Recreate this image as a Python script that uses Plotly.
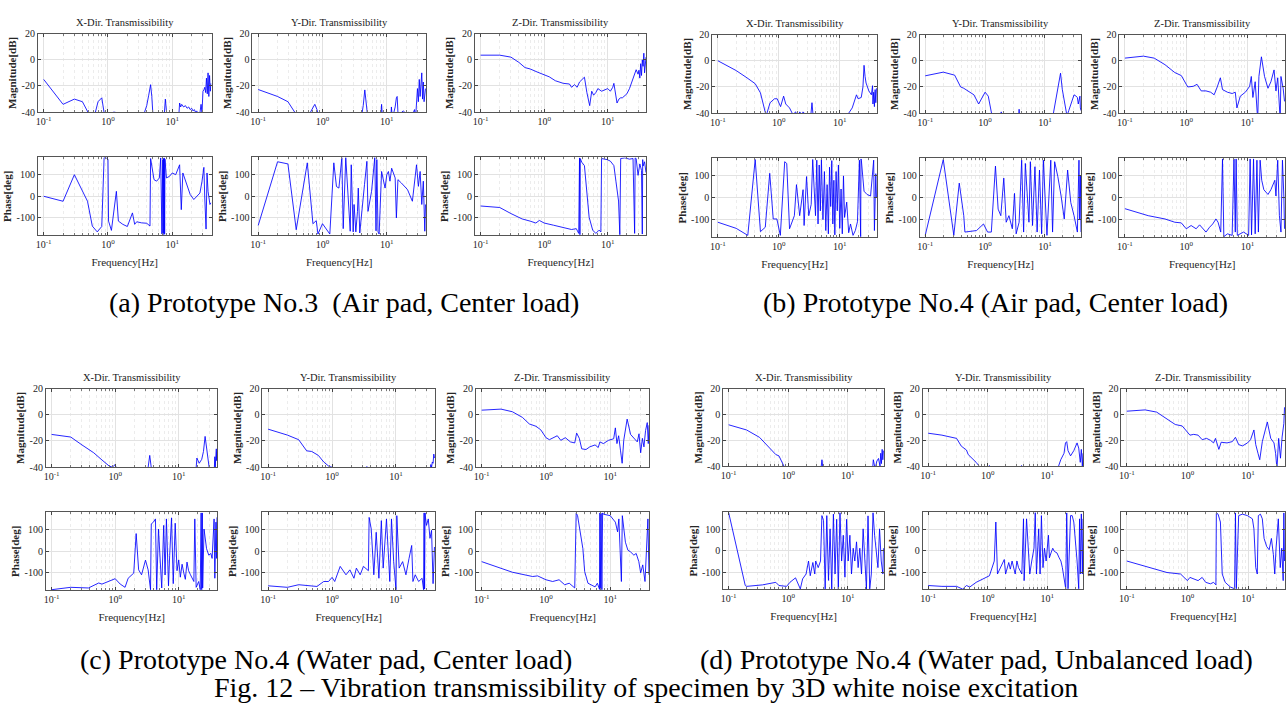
import plotly.graph_objects as go

W, H = 1287, 722
FONT = "Liberation Serif, Times New Roman, serif"
LINE = "rgba(0,0,255,0.85)"

# ---------------- data (frequency [Hz], magnitude [dB] / phase [deg]) ----------------
# (a) Prototype No.3 (Air pad, Center load)
a_xm_f = [0.1,0.2,0.3,0.4,0.5,0.6,0.7,0.8,0.9,1.0,1.2,1.3,1.5,3.4,3.7,4.0,4.3,4.6,4.8,5.0,5.5,7.4,7.8,8.1,8.5,12.5,13,13.5,14,15,16,17,18,19,20,21,22,23,24,25,26,27,28,29,30,31,32,33,34,35,36,37,38,39,40]
a_xm_v = [-15,-34,-30,-32,-41,-45,-32,-29,-45,-46,-40,-40,-46,-46,-40,-35,-27,-19,-28,-42,-50,-46,-30,-41,-50,-46,-33,-36,-34,-36,-35,-37,-36,-38,-37,-39,-38,-40,-39,-41,-45,-40,-34,-40,-24,-23,-21,-25,-14,-26,-10,-28,-12,-24,-18]
a_xp_f = [0.1,0.2,0.3,0.48,0.57,0.68,0.8,0.87,0.95,1.0,1.02,1.13,1.35,1.45,1.7,2.0,2.4,2.6,2.8,3.3,4.0,4.5,4.6,5.2,5.7,6.3,6.6,6.9,7.1,7.2,7.3,7.4,7.5,7.6,7.7,8.1,9.0,10,11.3,13,13.8,14.6,16.8,19,21.6,24,26.9,29,31,32,33.5,34.7,36,38.5,40]
a_xp_v = [0,-23,100,-23,-138,-165,-140,180,178,170,-115,-158,23,-115,-130,-140,-77,-130,-118,-123,-125,-138,175,77,70,85,178,-175,170,-178,175,-170,178,-176,172,85,92,108,100,146,-62,108,54,8,-15,0,15,70,134,-8,-152,108,23,-38,-30]
a_ym_f = [0.1,0.2,0.29,0.37,0.5,0.65,0.72,0.76,0.82,0.9,2.9,3.0,3.1,3.6,4.0,4.3,4.55,4.8,5.1,5.6,8.0,8.3,8.6,11.5,11.8,12.2,13.5,14.1,14.5,14.9,16,17,18,19,20,22,24,26,27,28,29,30,31,32,33,34,35,36,37,38,39,40]
a_ym_v = [-22.7,-28,-32,-40,-46,-40,-36,-34,-38,-46,-46,-40,-46,-50,-45,-35,-23,-33,-46,-50,-46,-34,-46,-46,-36,-45,-36,-29,-28,-40,-42,-40,-39,-40,-41,-40,-42,-40,-38,-45,-30,-22,-32,-15,-28,-20,-10,-30,-17,-32,-25,-22]
a_yp_f = [0.1,0.2,0.29,0.39,0.58,0.71,0.8,0.85,1.0,1.15,1.3,1.5,1.65,1.8,2.0,2.1,2.2,2.3,2.7,2.8,3.0,3.1,3.3,3.5,3.6,3.8,4.5,4.9,5.1,5.8,6.5,6.8,7.0,7.3,7.6,8.3,9.4,10,10.6,11.2,11.9,13.5,14.1,14.9,16.8,18.8,21,25,29,31,33,35,37,39,40]
a_yp_v = [-135,160,150,-155,155,-127,-113,-175,-127,-152,-175,155,45,38,180,-150,15,180,-162,146,-165,-38,-165,-70,38,-170,54,162,-70,23,180,-160,170,-165,-175,115,38,100,115,70,130,85,-100,77,62,46,31,-23,146,46,115,-38,70,-162,-38]
a_zm_f = [0.1,0.2,0.3,0.4,0.5,0.6,0.8,1.0,1.2,1.5,2.0,2.5,2.7,3.0,3.3,3.6,4.0,4.3,4.7,5.0,5.2,5.6,6.0,6.5,7.0,8.0,9.0,10,11,12,12.5,13.5,14,15,16,17,18,20,22,24,26,28,30,31,32,33,34,35,36,37,38,39,40]
a_zm_v = [3.5,3.5,2,-2,-6,-7,-9.6,-11.4,-13,-16,-18,-18.5,-21,-19,-21,-17,-14.6,-13.3,-25,-30,-35,-24,-27,-25,-22,-24,-23,-22,-24,-21,-18,-28,-33,-30,-29,-29,-28,-26,-22,-17,-12,-7.6,-11,-8,-14,-3,-12,0,-5,5,-10,-2,2]
a_zp_f = [0.1,0.2,0.3,0.45,0.6,0.74,0.84,1.0,1.4,1.8,2.2,2.7,3.2,3.5,3.6,3.65,3.7,3.8,3.9,4.3,4.7,5.1,5.8,6.5,7.3,7.8,8.0,9.8,11,12.5,13.5,14.8,15.5,16,18.6,22,25,26.5,27,28,30,32,34,35,35.5,36,38,40]
a_zp_v = [-45,-52,-80,-105,-115,-124,-112,-124,-134,-142,-148,-154,-150,-172,178,-178,175,160,158,142,8,-97,-157,-172,-157,-165,175,170,163,142,67,-22,-178,175,178,172,175,-172,178,175,97,150,120,-175,170,140,160,110]

# (b) Prototype No.4 (Air pad, Center load)
b_xm_f = [0.1,0.2,0.3,0.41,0.5,0.6,0.62,0.72,0.85,0.94,1.07,1.2,1.3,1.5,1.7,1.9,2.0,2.2,2.4,2.5,3.3,3.5,3.7,13.5,14,16,18.8,20,22.5,24,25,26,27,30,33,34.5,35,36,37,38,39,40]
b_xm_v = [0,-7.5,-13,-17.5,-24.5,-38,-42,-32,-29,-29,-35,-27,-33,-36,-41,-39,-45,-39,-41,-39,-45,-32,-45,-45,-40,-36,-26,-29,-28,-20,-3.5,-12,-17,-23,-26,-19,-33,-24,-35,-22,-32,-21]
b_xp_f = [0.1,0.2,0.31,0.41,0.5,0.6,0.71,0.81,0.93,1.06,1.25,1.35,1.5,1.8,1.95,2.2,2.5,2.6,2.85,3.1,3.4,3.6,4.0,4.2,4.4,4.6,4.8,5.0,5.3,5.6,5.9,6.2,6.5,6.8,7.1,7.4,7.7,8.0,8.3,8.7,9.1,9.5,10,10.5,11,11.5,12,13,14,15,16.5,18,19.5,21,22,22.3,22.6,25,28,32,34.5,36,37,38,39,40]
b_xp_v = [-112,-140,-172,175,-155,-135,112,-97,-97,-172,165,157,-142,-82,60,-82,37,-127,97,-82,-30,175,-82,172,-120,150,-60,175,-100,120,-150,60,-165,140,-40,170,-120,80,-170,120,-60,150,-140,40,-165,100,-90,-20,-160,-120,-172,-150,-110,172,-178,178,172,30,15,8,97,172,-150,40,110,0]
b_ym_f = [0.1,0.2,0.31,0.39,0.44,0.55,0.65,0.78,1.0,1.13,1.28,1.8,1.86,1.9,3.6,3.7,3.8,13.6,15,16.5,18.2,19.5,21,23.3,25,27,30.6,33,34.8,36,37,38.4,39,40]
b_ym_v = [-11.5,-8.7,-11,-20,-21,-24,-26,-33,-24,-27,-40,-46,-39,-46,-46,-37,-46,-42,-30,-20,-9.5,-22,-31,-42,-38,-33,-26,-27,-28,-33,-30,-27,-36,-38]
b_yp_f = [0.1,0.2,0.3,0.37,0.44,0.46,0.72,0.94,1.1,1.27,1.49,1.65,1.83,2.05,2.25,2.5,2.85,3.1,3.3,3.7,4.08,4.4,4.7,5.4,5.7,6.2,6.8,7.4,8.1,8.8,9.4,10.8,12.5,13.4,14.5,16.4,18.6,21,23.9,27,30.6,34.8,37,38,39,40]
b_yp_v = [-172,175,-172,67,-82,-157,-150,-120,-157,-157,145,-52,-82,90,-112,-82,-142,20,-165,-112,172,-157,157,-112,165,-127,142,-157,127,-165,172,-172,172,-157,165,97,8,-97,127,-22,-82,-157,172,-100,100,-157]
b_zm_f = [0.1,0.2,0.3,0.45,0.65,0.83,1.0,1.06,1.3,1.5,1.75,2.1,2.5,2.85,3.2,3.6,3.9,4.7,5.6,6.3,6.7,7.6,9.2,10.8,11.5,12.2,13.3,14.6,15.3,16.8,18.9,21.5,24,27,29,31,34,35,38,40]
b_zm_v = [2,3.5,2,-3,-9,-11.3,-18,-20,-19.5,-18,-23,-23,-24,-26,-20,-13,-22,-24,-25,-24,-36,-27,-24,-19.5,-12,-28,-16,-45,-12,3,-12,-21,-16,-7,-23,-13,-45,-12,-21,-31]
b_zp_f = [0.1,0.24,0.45,0.65,0.83,1.0,1.2,1.45,1.65,1.85,2.1,2.4,2.7,3.05,3.3,3.65,3.9,4.1,4.3,4.7,5.6,6.0,6.3,6.5,6.8,8.6,10.4,11,11.6,12.5,13.3,14.2,15,16,17,18.4,21.5,24,27.8,29,31,33,35,37,39,40]
b_zp_v = [-50,-82,-97,-112,-115,-142,-127,-142,-124,-142,-157,-135,-120,-97,-112,-157,178,-178,-172,-165,-172,178,-157,178,-172,-157,-172,178,-170,178,-165,172,-157,172,80,37,15,37,80,8,172,-82,-157,172,8,-142]

# (c) Prototype No.4 (Water pad, Center load)
c_xm_f = [0.1,0.2,0.3,0.46,0.62,0.8,0.9,1.0,1.06,1.2,3.2,3.5,3.8,18.5,19.3,21,23,24.5,26,28.5,31,36,37,37.5,38,38.5,39,39.5,40]
c_xm_v = [-15,-17,-23,-29,-34.5,-39,-40,-38,-42,-50,-45,-31,-45,-45,-33,-37,-34,-28,-16.5,-31,-45,-45,-32,-40,-27,-38,-26,-35,-28]
c_xp_f = [0.1,0.2,0.38,0.55,0.62,0.8,1.0,1.2,1.43,1.6,1.96,2.14,2.34,2.6,3.0,3.3,3.6,3.7,4.0,4.3,4.4,4.5,4.8,5.1,5.4,5.8,6.1,6.4,6.9,7.2,7.7,8.2,8.8,9.4,10,10.6,11.3,12,12.7,13.5,14.3,15.3,17.3,17.9,18.8,20.6,21.8,22.5,23,23.5,23.8,25,27.4,29.7,32,33.5,36,37,38.5,39.5,40]
c_xp_v = [-178,-167,-170,-147,-152,-140,-127,-152,-167,-125,-101,82,-86,-109,-41,-86,-178,127,135,150,-48,-178,103,-60,-170,120,-110,150,-160,-20,155,-150,130,-90,-40,-120,-60,-100,-130,-50,-90,-109,-140,150,-167,-140,-178,178,-178,178,-170,103,12,-18,-10,-33,150,-125,135,-33,157]
c_ym_f = [0.1,0.2,0.3,0.4,0.48,0.61,0.74,0.9,1.0,1.05,3.4,3.5,3.6,34,35,36,37,38,39,40]
c_ym_v = [-11,-15.5,-19,-27.5,-28,-31,-36,-39.5,-40,-45,-45,-39.5,-45,-45,-38,-40,-36,-37,-30,-33]
c_yp_f = [0.1,0.2,0.3,0.4,0.58,0.74,0.88,1.0,1.1,1.34,1.45,1.65,1.9,2.2,2.4,2.75,3.1,3.5,3.7,3.8,4.1,4.5,4.9,5.4,5.9,6.3,7.1,8.0,8.5,9.2,10,10.3,11.2,12.7,14.3,16,17.6,18.4,20,22.6,25.6,27,27.5,28,28.5,29,30,32,34,36,38,40]
c_yp_v = [-160,-167,-155,-160,-163,-140,-140,-121,-140,-70,-86,-109,-86,-125,-78,-109,-70,-86,-90,157,103,-109,88,-125,142,-78,150,-140,150,-48,-178,165,-78,-48,-109,-33,27,-140,-109,-140,-125,-178,178,-175,178,150,120,150,60,97,-150,20]
c_zm_f = [0.1,0.2,0.3,0.43,0.55,0.7,0.83,1.0,1.13,1.3,1.5,1.7,2.0,2.4,2.8,3.0,3.3,3.6,4.2,4.8,5.8,6.5,6.9,7.8,9.4,11.3,12,12.7,13.5,14.4,15.3,16.2,18.3,20.7,23.3,26.3,28,29.7,31.6,33.4,35.4,37.6,39,40]
c_zm_v = [3.5,4.3,2.3,-2,-7,-8.8,-11.5,-17.5,-19,-17.5,-16,-19.5,-17.5,-20.7,-21.5,-14,-18,-26,-26.5,-24.5,-23,-25,-20.7,-22,-19.5,-18.3,-10,-22,-16,-27,-37,-19.5,-3.3,-15,-18,-20.7,-14.5,-29,-18,-24.5,-12,-6,-22,-8]
c_zp_f = [0.1,0.3,0.62,0.74,1.0,1.27,1.6,1.95,2.3,2.8,2.95,3.1,3.75,4.0,4.5,5.1,5.8,6.3,6.8,6.9,7.0,7.2,7.4,7.6,7.8,10,12,13,13.6,14.9,15.4,17.2,18.8,20.7,23.3,25.3,27.8,29.7,32,34.7,36.8,38.5,40]
c_zp_v = [-48,-97,-117,-114,-132,-140,-132,-155,-148,-170,178,165,12,-94,-148,-158,-165,-148,-176,178,-178,176,-178,178,172,165,135,90,150,-140,165,42,5,-3,-18,-10,-48,-100,-63,-140,-3,150,-109]

# (d) Prototype No.4 (Water pad, Unbalanced load)
d_xm_f = [0.1,0.2,0.33,0.48,0.62,0.7,0.8,0.85,0.9,3.5,3.7,3.9,26,27,29,31,33,35,36,37,38,39,40]
d_xm_v = [-8,-12,-17.7,-26,-31,-32,-37.5,-40,-46,-45,-35,-45,-45,-35,-42,-36,-34,-40,-30,-38,-27,-35,-28]
d_xp_f = [0.1,0.19,0.2,0.37,0.62,0.7,0.94,1.07,1.33,1.6,1.75,2.0,2.2,2.35,2.6,2.8,2.9,3.2,3.5,3.69,3.93,4.19,4.46,4.76,5.07,5.4,5.76,6.14,6.54,6.97,7.43,7.92,8.44,9.0,9.6,10.2,10.9,11.6,12.4,13.2,14.1,15.0,16.0,17.1,18.2,19.4,20.7,22.0,23.5,25.0,26.7,28.4,30.3,32.3,34.4,36.7,39.1,40]
d_xp_v = [179,-163,-167,-160,-148,-163,-167,-148,-127,-179,-132,-109,-48,-117,-55,-109,-48,-79,-48,165,142,-179,165,-139,103,-179,172,-109,148,-179,179,-48,73,-124,148,-48,73,-109,12,-48,42,-79,12,-109,103,-48,-179,164,-179,-109,179,73,-18,-79,103,-48,-109,12]
d_ym_f = [0.1,0.17,0.3,0.36,0.44,0.47,0.64,0.72,0.8,1.05,1.07,1.1,3.6,3.7,3.8,15,16.9,19.2,20.3,21.3,22.4,24.7,28,31.8,33.9,36,37.5,39,40]
d_ym_v = [-14.5,-16,-18.5,-24.5,-27.5,-31,-37,-40,-46,-46,-39.5,-46,-46,-39.5,-46,-42,-35,-30,-22,-21,-28,-32,-28,-22,-26,-37,-27,-40,-30]
d_yp_f = [0.1,0.17,0.3,0.38,0.44,0.5,0.64,0.83,1.07,1.29,1.37,1.46,1.65,1.9,2.0,2.26,2.4,2.57,2.9,3.1,3.3,3.75,4.0,4.1,4.5,4.8,5.1,5.5,6.0,6.3,6.6,7.2,7.6,8.0,8.5,9.0,9.6,10.5,10.9,11.6,12.4,13.2,14.6,15.9,17,18,19.2,20.5,21.3,22.4,24.7,26.3,28,30,31.8,33.9,35,36,37.5,39,40]
d_yp_v = [-163,-167,-167,-180,-163,-170,-148,-132,-117,-48,135,-109,-79,-41,-109,-55,-86,-48,-109,-48,-79,-109,150,-140,150,-18,-109,-48,12,180,-109,103,-109,165,-79,12,-48,73,-33,-10,12,-3,-10,-33,-48,-79,-125,-178,178,-178,165,165,135,42,-48,-178,150,-109,173,-109,150]
d_zm_f = [0.1,0.2,0.31,0.46,0.63,0.82,1.0,1.1,1.27,1.5,1.75,2.07,2.4,2.7,2.9,3.3,3.6,4.5,5.5,6.2,7.0,8.1,9.8,11,12.5,13.4,14.6,15.6,17.2,20.8,23.7,26.8,28.5,30,32,34.3,36.5,39,40]
d_zm_v = [2.5,3.5,1.8,-3.3,-7.8,-8.9,-13.4,-16,-15.4,-16,-19.5,-18.5,-20,-22,-18.5,-27,-21.5,-22,-21,-17.7,-23.3,-24.3,-22,-19.5,-12,-23.3,-30,-35,-21,-5.8,-18.5,-22,-30,-42,-18.5,-33.8,-17.4,-7,5.5]
d_zp_f = [0.1,0.2,0.46,0.77,1.0,1.1,1.27,1.5,1.75,2.0,2.4,2.7,2.95,3.0,3.2,3.5,3.75,4.2,5.1,6.0,6.2,6.4,7.0,8.1,9.8,11.8,12.5,13.4,14.2,14.8,16,17.2,18.4,20.3,22.3,24.3,26.2,27.6,29,31.6,34,36,38,39,40]
d_zp_v = [-48,-71,-102,-109,-140,-125,-132,-140,-125,-148,-155,-148,-160,178,172,135,-109,-148,-170,-178,178,-178,165,172,165,150,103,-79,-109,165,172,150,58,20,5,58,-18,-109,12,150,-79,12,-140,178,-48]

panel_titles = ["X-Dir. Transmissibility", "Y-Dir. Transmissibility", "Z-Dir. Transmissibility"]
captions = ["(a) Prototype No.3\u00a0 (Air pad, Center load)",
            "(b) Prototype No.4 (Air pad, Center load)",
            "(c) Prototype No.4 (Water pad, Center load)",
            "(d) Prototype No.4 (Water pad, Unbalanced load)"]
fig_caption = "Fig. 12 \u2013 Vibration transmissibility of specimen by 3D white noise excitation"
x_tickvals = [0.1, 1, 10]
x_ticktext = ["10<sup>-1</sup>", "10<sup>0</sup>", "10<sup>1</sup>"]
x_minor = [0.2,0.3,0.4,0.5,0.6,0.7,0.8,0.9,2,3,4,5,6,7,8,9,20,30,40]
mag_ticks = [-40, -20, 0, 20]
ph_ticks = [-100, 0, 100]

series = {
    "a": [(a_xm_f, a_xm_v, a_xp_f, a_xp_v), (a_ym_f, a_ym_v, a_yp_f, a_yp_v), (a_zm_f, a_zm_v, a_zp_f, a_zp_v)],
    "b": [(b_xm_f, b_xm_v, b_xp_f, b_xp_v), (b_ym_f, b_ym_v, b_yp_f, b_yp_v), (b_zm_f, b_zm_v, b_zp_f, b_zp_v)],
    "c": [(c_xm_f, c_xm_v, c_xp_f, c_xp_v), (c_ym_f, c_ym_v, c_yp_f, c_yp_v), (c_zm_f, c_zm_v, c_zp_f, c_zp_v)],
    "d": [(d_xm_f, d_xm_v, d_xp_f, d_xp_v), (d_ym_f, d_ym_v, d_yp_f, d_yp_v), (d_zm_f, d_zm_v, d_zp_f, d_zp_v)],
}
for g in series.values():
    for s in g:
        assert len(s[0]) == len(s[1]) and len(s[2]) == len(s[3])

# ---------------- layout geometry (pixels) ----------------
groups = [
    ("a", [(35, 209), (250, 424), (473, 645)], (28, 108), (154, 233)),
    ("b", [(711, 876), (919, 1081), (1119, 1285)], (29, 109), (155, 235)),
    ("c", [(43, 215), (260, 433), (474, 648)], (389, 469), (515, 594)),
    ("d", [(722, 883), (922, 1083), (1121, 1285)], (389, 468), (515, 593)),
]

fig = go.Figure()
annotations = []
tickfont = dict(family=FONT, size=10, color="#262626")
n = 0


def axis_names(k):
    return ("x" if k == 1 else f"x{k}", "y" if k == 1 else f"y{k}")


for gname, xs, mag, ph in groups:
    for col, (x0, x1) in enumerate(xs):
        for row, (y0, y1) in enumerate([mag, ph]):
            n += 1
            xn, yn = axis_names(n)
            f = series[gname][col][0 if row == 0 else 2]
            v = series[gname][col][1 if row == 0 else 3]
            fig.add_trace(go.Scatter(x=f, y=v, xaxis=xn, yaxis=yn, mode="lines",
                                     line=dict(color=LINE, width=1),
                                     showlegend=False, hoverinfo="skip"))
            xa = dict(domain=[x0 / W, x1 / W], anchor=yn, type="log", range=[-1.09, 1.61],
                      tickmode="array", tickvals=x_tickvals, ticktext=x_ticktext,
                      ticks="inside", ticklen=3, tickcolor="#444", showline=True, mirror="ticks",
                      linecolor="#555", linewidth=1, showgrid=True, gridcolor="#e2e2e2",
                      zeroline=False, tickfont=tickfont, fixedrange=True,
                      minor=dict(tickmode="array", tickvals=x_minor, showgrid=True,
                                 gridcolor="#ececec", griddash="dot", ticks="inside",
                                 ticklen=2, tickcolor="#777"))
            if row == 1:
                xa["title"] = dict(text="Frequency[Hz]", font=dict(family=FONT, size=11, color="#262626"),
                                   standoff=9)
            if row == 0:
                ya = dict(range=[-40, 20], tickvals=mag_ticks, ticktext=[str(t) for t in mag_ticks],
                          title=dict(text="<b>Magnitude[dB]</b>", font=dict(family=FONT, size=11, color="#262626"),
                                     standoff=2))
            else:
                ya = dict(range=[-180, 180], tickvals=ph_ticks, ticktext=[str(t) for t in ph_ticks],
                          title=dict(text="<b>Phase[deg]</b>", font=dict(family=FONT, size=11, color="#262626"),
                                     standoff=2))
            ya.update(domain=[1 - y1 / H, 1 - y0 / H], anchor=xn, tickmode="array",
                      ticks="inside", ticklen=3, tickcolor="#444", showline=True, mirror="ticks",
                      linecolor="#555", linewidth=1, showgrid=True, gridcolor="#e2e2e2",
                      zeroline=False, tickfont=tickfont, fixedrange=True)
            fig.layout["xaxis" if n == 1 else f"xaxis{n}"] = xa
            fig.layout["yaxis" if n == 1 else f"yaxis{n}"] = ya
            if row == 0:
                annotations.append(dict(text=panel_titles[col], x=(x0 + x1) / 2 / W, y=1 - (y0 - 4) / H,
                                        xref="paper", yref="paper", xanchor="center", yanchor="bottom",
                                        showarrow=False, font=dict(family=FONT, size=10.5, color="#1a1a1a")))

cap_pos = [(342, 302), (995, 302), (324, 665), (976, 665)]
for text, (cx, cy) in zip(captions, cap_pos):
    annotations.append(dict(text=text, x=cx / W, y=1 - cy / H, xref="paper", yref="paper",
                            xanchor="center", yanchor="middle", showarrow=False,
                            font=dict(family=FONT, size=28, color="black")))
annotations.append(dict(text=fig_caption, x=645 / W, y=1 - 693 / H, xref="paper", yref="paper",
                        xanchor="center", yanchor="middle", showarrow=False,
                        font=dict(family=FONT, size=28, color="black")))

fig.update_layout(width=W, height=H, margin=dict(l=0, r=0, t=0, b=0),
                  paper_bgcolor="white", plot_bgcolor="white", annotations=annotations,
                  font=dict(family=FONT))

fig.write_html("out.html", config={"displayModeBar": False},
               post_script="document.body.style.margin='0';")
